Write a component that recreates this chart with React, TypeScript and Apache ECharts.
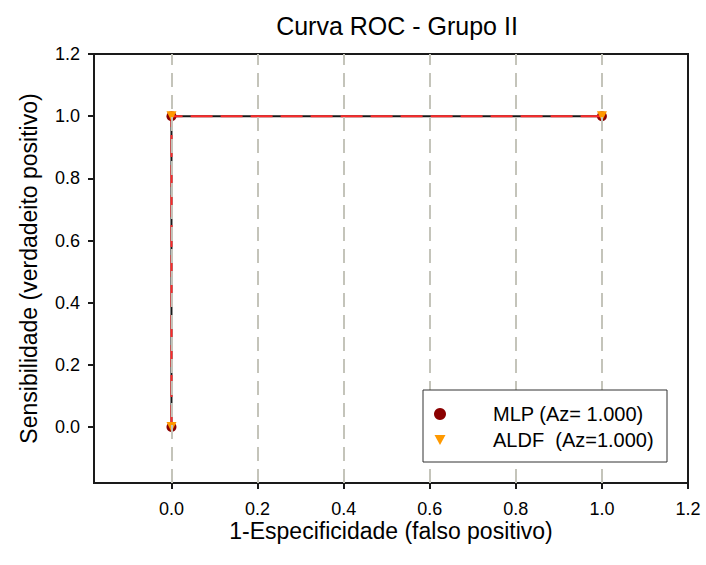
import React, { useEffect, useRef } from "react";
import * as echarts from "echarts";

const mlpX = [0, 0, 1];
const mlpY = [0, 1, 1];
const aldfX = [0, 0, 1];
const aldfY = [0, 1, 1];
const tickValues = [0, 0.2, 0.4, 0.6, 0.8, 1.0, 1.2];
const gridXValues = [0, 0.2, 0.4, 0.6, 0.8, 1.0];
const titleText = "Curva ROC - Grupo II";
const xName = "1-Especificidade (falso positivo)";
const yName = "Sensibilidade (verdadeito positivo)";
const mlpName = "MLP (Az= 1.000)";
const aldfName = "ALDF  (Az=1.000)";

const FONT = "Liberation Sans, Arial, sans-serif";

export default function App() {
  const ref = useRef<HTMLDivElement>(null);
  useEffect(() => {
    const chart = echarts.init(ref.current!, null, { renderer: "svg" });
    const lx = 423, ly = 390;
    chart.setOption({
      animation: false,
      backgroundColor: "#ffffff",
      title: {
        text: titleText,
        left: 392,
        textAlign: "center",
        top: 8,
        textStyle: { fontFamily: FONT, fontSize: 25, fontWeight: "normal", color: "#000" },
      },
      grid: {
        left: 94,
        top: 54,
        right: 18,
        bottom: 82,
        show: true,
        borderColor: "#1a1a1a",
        borderWidth: 2,
        backgroundColor: "transparent",
      },
      xAxis: {
        type: "value",
        min: -0.18,
        max: 1.2,
        axisLine: { show: true, onZero: false, lineStyle: { color: "#1a1a1a", width: 2 } },
        axisTick: { show: true, customValues: tickValues, length: 6, lineStyle: { color: "#1a1a1a", width: 2 } },
        axisLabel: {
          customValues: tickValues,
          formatter: (v: number) => v.toFixed(1),
          margin: 17,
          fontFamily: FONT,
          fontSize: 18,
          color: "#000",
        },
        splitLine: { show: false },
      },
      yAxis: {
        type: "value",
        min: -0.18,
        max: 1.2,
        name: yName,
        nameLocation: "middle",
        nameGap: 54,
        nameTextStyle: { fontFamily: FONT, fontSize: 23, color: "#000" },
        axisLine: { show: true, onZero: false, lineStyle: { color: "#1a1a1a", width: 2 } },
        axisTick: { show: true, customValues: tickValues, length: 6, lineStyle: { color: "#1a1a1a", width: 2 } },
        axisLabel: {
          customValues: tickValues,
          formatter: (v: number) => v.toFixed(1),
          margin: 14,
          fontFamily: FONT,
          fontSize: 18,
          color: "#000",
        },
        splitLine: { show: false },
      },
      series: [
        {
          type: "line",
          name: "grid",
          data: [],
          silent: true,
          z: 1,
          markLine: {
            silent: true,
            symbol: "none",
            label: { show: false },
            lineStyle: { color: "#c4c4ba", width: 2, type: [14, 8] },
            data: gridXValues.map((v) => ({ xAxis: v })),
          },
        },
        {
          type: "line",
          name: mlpName,
          data: mlpX.map((x, i) => [x, mlpY[i]]),
          z: 3,
          lineStyle: { color: "#1a1a1a", width: 2 },
          symbol: "circle",
          symbolSize: 10,
          showSymbol: true,
          itemStyle: { color: "#8b0000" },
        },
        {
          type: "line",
          name: aldfName,
          data: aldfX.map((x, i) => [x, aldfY[i]]),
          z: 4,
          lineStyle: { color: "#ff2a2a", width: 2, type: [22, 8] },
          symbol: "triangle",
          symbolRotate: 180,
          symbolSize: 10,
          showSymbol: true,
          itemStyle: { color: "#ff9900" },
        },
      ],
      graphic: [
        {
          type: "text",
          x: 391,
          y: 531,
          style: {
            text: xName,
            fontFamily: FONT,
            fontSize: 23,
            fill: "#000",
            textAlign: "center",
            textVerticalAlign: "middle",
          },
        },
        {
          type: "rect",
          shape: { x: lx, y: ly, width: 244, height: 72 },
          style: { fill: "#fff", stroke: "#333", lineWidth: 1 },
          z: 10,
        },
        {
          type: "circle",
          shape: { cx: lx + 17, cy: ly + 24, r: 6 },
          style: { fill: "#8b0000" },
          z: 11,
        },
        {
          type: "polygon",
          shape: { points: [[lx + 11.5, ly + 45], [lx + 22.5, ly + 45], [lx + 17, ly + 55]] },
          style: { fill: "#ff9900" },
          z: 11,
        },
        {
          type: "text",
          x: lx + 70,
          y: ly + 24,
          z: 11,
          style: { text: mlpName, fontFamily: FONT, fontSize: 20, fill: "#000", textVerticalAlign: "middle" },
        },
        {
          type: "text",
          x: lx + 70,
          y: ly + 50,
          z: 11,
          style: { text: aldfName, fontFamily: FONT, fontSize: 20, fill: "#000", textVerticalAlign: "middle" },
        },
      ],
    });
    return () => chart.dispose();
  }, []);
  return <div ref={ref} style={{ width: 706, height: 565, position: "absolute", left: 0, top: 0 }} />;
}
